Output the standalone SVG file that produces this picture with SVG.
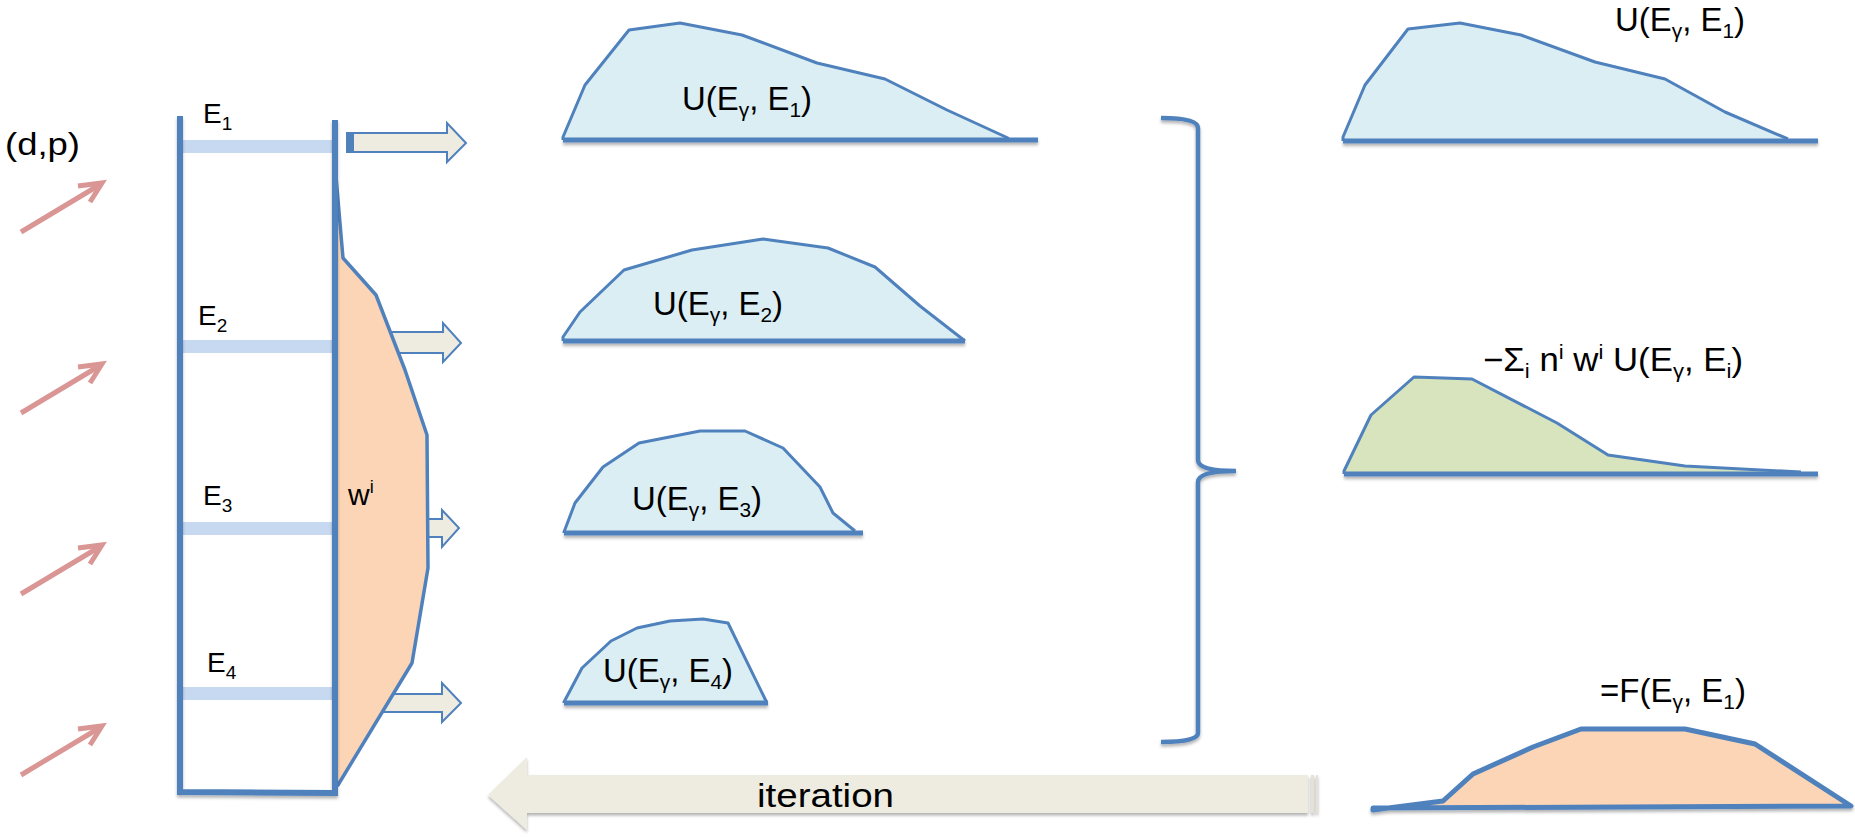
<svg xmlns="http://www.w3.org/2000/svg" width="1855" height="837" viewBox="0 0 1855 837">
<defs>
<filter id="sh" filterUnits="userSpaceOnUse" x="0" y="0" width="1855" height="837">
<feDropShadow dx="0" dy="2.5" stdDeviation="1.5" flood-color="#000" flood-opacity="0.3"/>
</filter>
<g id="pa">
<line x1="21" y1="232" x2="101" y2="184"/>
<polyline points="78,186 102,183 90,202"/>
</g>
</defs>
<style>
text{font-family:"Liberation Sans",Arial,sans-serif;fill:#000}
.u{font-size:33px}
.pink{fill:none;stroke:#d99694;stroke-width:5;stroke-linecap:butt}
.rung{fill:#c6d9f1}
.lad{fill:none;stroke:#4f81bd;stroke-width:6}
.bluef{fill:#dbeef4;stroke:#4f81bd;stroke-width:3;stroke-linejoin:round}
.base{stroke:#4f81bd;stroke-width:5;fill:none}
.arr{fill:#eeece1;stroke:#4f81bd;stroke-width:2}
</style>

<g id="beams">
<text x="5" y="155" style="font-size:32px" textLength="75" lengthAdjust="spacingAndGlyphs">(d,p)</text>
<g class="pink">
<use href="#pa"/>
<use href="#pa" transform="translate(0,181)"/>
<use href="#pa" transform="translate(0,362)"/>
<use href="#pa" transform="translate(0,543)"/>
</g>
</g>

<g id="connectors">
<path class="arr" d="M347,133 L447,133 L447,123 L466,143 L447,162 L447,152 L347,152 Z"/>
<rect x="347" y="133" width="7" height="19" fill="#4f81bd"/>
<path class="arr" d="M380,332 L443,332 L443,323 L461,343 L443,362 L443,353 L380,353 Z"/>
<path class="arr" d="M415,519 L442,519 L442,510 L459,528 L442,547 L442,537 L415,537 Z"/>
<path class="arr" d="M380,694 L442,694 L442,683 L461,703 L442,722 L442,712 L380,712 Z"/>
<g id="iteration" filter="url(#sh)">
<path d="M488,795 L527,757 L527,775 L1308,775 L1308,813 L527,813 L527,830 Z" fill="#eeece1"/>
<rect x="1311" y="775" width="3" height="38" fill="#e4e1d6"/>
<rect x="1316" y="775" width="2" height="38" fill="#e4e1d6"/>
</g>
<text x="757" y="807" style="font-size:34px" textLength="137" lengthAdjust="spacingAndGlyphs">iteration</text>
<path d="M1161,118 Q1198,118 1198,128 L1198,460 Q1198,471 1236,471 Q1198,471 1198,482 L1198,733 Q1198,742 1161,742" fill="none" stroke="#4f81bd" stroke-width="4.5" filter="url(#sh)"/>
</g>

<g id="ladder">
<rect class="rung" x="182" y="140" width="152" height="13"/>
<rect class="rung" x="182" y="340" width="152" height="13"/>
<rect class="rung" x="182" y="522" width="152" height="13"/>
<rect class="rung" x="182" y="687" width="152" height="13"/>
<polygon points="335,165 343,258 376,295 405,370 427,435 428,568 412,663 338,785 335,785" fill="#fbd5b5" stroke="#4f81bd" stroke-width="3.5" stroke-linejoin="round"/>
<path class="lad" d="M180,116 L180,792 L335,793 L335,120" filter="url(#sh)"/>
<text x="203" y="123" style="font-size:28px">E<tspan style="font-size:19px" dy="7">1</tspan></text>
<text x="198" y="325" style="font-size:28px">E<tspan style="font-size:19px" dy="7">2</tspan></text>
<text x="203" y="505" style="font-size:28px">E<tspan style="font-size:19px" dy="7">3</tspan></text>
<text x="207" y="672" style="font-size:28px">E<tspan style="font-size:19px" dy="7">4</tspan></text>
<text x="348" y="505" style="font-size:30px">w<tspan style="font-size:18px" dy="-12">i</tspan></text>
</g>

<g id="u1">
<polyline class="bluef" points="563,140 563,137 585,85 629,30 680,23 742,35 817,63 885,79 947,110 1008,138 1008,140"/>
<line class="base" x1="563" y1="140" x2="1038" y2="140" filter="url(#sh)"/>
<text class="u" x="682" y="110" textLength="130" lengthAdjust="spacingAndGlyphs">U(E<tspan font-size="21" dy="7">γ</tspan><tspan dy="-7">, E</tspan><tspan font-size="21" dy="7">1</tspan><tspan dy="-7">)</tspan></text>
</g>

<g id="u2">
<polyline class="bluef" points="563,341 563,337 580,312 624,270 692,250 763,239 828,248 875,267 920,306 965,341"/>
<line class="base" x1="563" y1="341" x2="965" y2="341" filter="url(#sh)"/>
<text class="u" x="653" y="315" textLength="130" lengthAdjust="spacingAndGlyphs">U(E<tspan font-size="21" dy="7">γ</tspan><tspan dy="-7">, E</tspan><tspan font-size="21" dy="7">2</tspan><tspan dy="-7">)</tspan></text>
</g>

<g id="u3">
<polyline class="bluef" points="564,533 564,532 575,503 603,467 639,443 700,431 745,431 783,448 820,487 833,513 855,531"/>
<line class="base" x1="564" y1="533" x2="863" y2="533" filter="url(#sh)"/>
<text class="u" x="632" y="510" textLength="130" lengthAdjust="spacingAndGlyphs">U(E<tspan font-size="21" dy="7">γ</tspan><tspan dy="-7">, E</tspan><tspan font-size="21" dy="7">3</tspan><tspan dy="-7">)</tspan></text>
</g>

<g id="u4">
<polyline class="bluef" points="564,703 564,702 582,668 611,641 637,628 670,621 703,619 728,623 767,703"/>
<line class="base" x1="564" y1="703" x2="768" y2="703" filter="url(#sh)"/>
<text class="u" x="603" y="682" textLength="130" lengthAdjust="spacingAndGlyphs">U(E<tspan font-size="21" dy="7">γ</tspan><tspan dy="-7">, E</tspan><tspan font-size="21" dy="7">4</tspan><tspan dy="-7">)</tspan></text>
</g>

<g id="ur">
<polyline class="bluef" points="1343,141 1343,137 1365,85 1408,29 1460,23 1521,35 1595,62 1665,79 1725,112 1788,139"/>
<line class="base" x1="1343" y1="141" x2="1818" y2="141" filter="url(#sh)"/>
<text class="u" x="1615" y="31" textLength="130" lengthAdjust="spacingAndGlyphs">U(E<tspan font-size="21" dy="7">γ</tspan><tspan dy="-7">, E</tspan><tspan font-size="21" dy="7">1</tspan><tspan dy="-7">)</tspan></text>
</g>

<g id="sum">
<polyline points="1344,474 1344,471 1371,415 1414,377 1472,379 1557,423 1608,455 1685,466 1801,472" fill="#d7e4bd" stroke="#4f81bd" stroke-width="3" stroke-linejoin="round"/>
<line class="base" x1="1344" y1="474" x2="1818" y2="474" filter="url(#sh)"/>
<text class="u" x="1483" y="371" textLength="260" lengthAdjust="spacingAndGlyphs">−Σ<tspan font-size="21" dy="7">i</tspan><tspan dy="-7"> n</tspan><tspan font-size="21" dy="-12">i</tspan><tspan dy="12"> w</tspan><tspan font-size="21" dy="-12">i</tspan><tspan dy="12"> U(E</tspan><tspan font-size="21" dy="7">γ</tspan><tspan dy="-7">, E</tspan><tspan font-size="21" dy="7">i</tspan><tspan dy="-7">)</tspan></text>
</g>

<g id="result">
<polygon points="1373,810 1443,801 1473,774 1533,747 1581,729 1685,729 1755,744 1851,806 1373,808" fill="#fbd5b5" stroke="#4f81bd" stroke-width="5" stroke-linejoin="round" filter="url(#sh)"/>
<text class="u" x="1600" y="702" textLength="146" lengthAdjust="spacingAndGlyphs">=F(E<tspan font-size="21" dy="7">γ</tspan><tspan dy="-7">, E</tspan><tspan font-size="21" dy="7">1</tspan><tspan dy="-7">)</tspan></text>
</g>
</svg>
